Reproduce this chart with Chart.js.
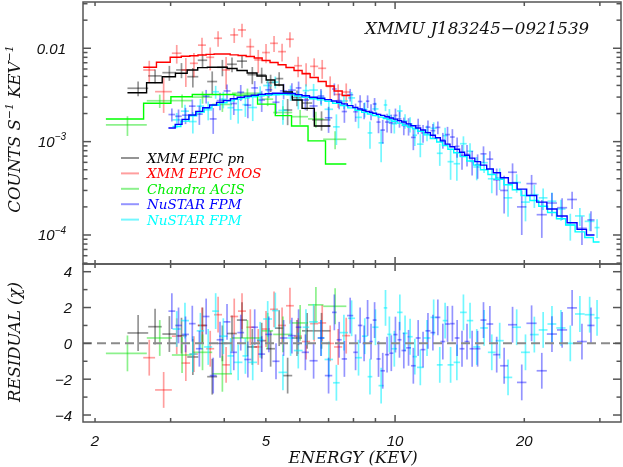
<!DOCTYPE html>
<html>
<head>
<meta charset="utf-8">
<script src="https://cdn.jsdelivr.net/npm/chart.js@4.4.1/dist/chart.umd.min.js"></script>
<style>
  html, body { margin:0; padding:0; background:#fff; }
  #wrap { position:relative; width:623px; height:467px; }
  #wrap canvas { position:absolute; left:0; top:0; }
</style>
</head>
<body>
<div id="wrap">
  <canvas id="spec" width="623" height="467"></canvas>
  <canvas id="resid" width="623" height="467"></canvas>
</div>
<script>
// ── Data (energy keV, half bin width, counts/s/keV, error, model, residual) ───

// XMM EPIC pn
const pnE   = [2.52,2.76,2.98,3.18,3.38,3.56,3.75,3.96,4.17,4.40,4.65,4.89,5.13,5.37,5.62,5.91,6.24,6.74];
const pnDE  = [0.14,0.10,0.11,0.09,0.10,0.09,0.10,0.11,0.11,0.12,0.12,0.12,0.12,0.12,0.14,0.16,0.17,0.33];
const pnF   = [3.73e-3,5.06e-3,5.48e-3,5.86e-3,4.96e-3,7.44e-3,4.40e-3,6.26e-3,6.74e-3,7.28e-3,5.21e-3,5.20e-3,4.30e-3,4.73e-3,2.18e-3,2.96e-3,2.59e-3,1.71e-3];
const pnFE  = [0.67e-3,0.85e-3,1.0e-3,1.08e-3,1.17e-3,1.24e-3,1.25e-3,1.25e-3,1.2e-3,1.16e-3,1.09e-3,1.0e-3,0.91e-3,0.81e-3,0.68e-3,0.56e-3,0.45e-3,0.4e-3];
const pnMod = [3.34e-3,4.27e-3,4.96e-3,5.40e-3,5.85e-3,6.20e-3,6.26e-3,6.26e-3,6.07e-3,5.78e-3,5.43e-3,5.05e-3,4.57e-3,4.04e-3,3.40e-3,2.79e-3,2.27e-3,1.47e-3];
const pnRes = [0.58,0.93,0.52,0.43,-0.76,1.0,-1.86,0.0,0.55,1.3,-0.2,0.15,-0.3,0.85,-1.8,0.3,0.7,0.7];

// XMM EPIC MOS
const mosE   = [2.675,2.89,3.10,3.255,3.40,3.55,3.71,3.87,4.04,4.22,4.40,4.60,4.80,5.005,5.225,5.455,5.69,5.945,6.205,6.48,6.765,7.06,7.37,7.695];
const mosDE  = [0.085,0.13,0.08,0.075,0.073,0.076,0.08,0.083,0.087,0.09,0.095,0.097,0.10,0.105,0.11,0.115,0.12,0.125,0.135,0.14,0.145,0.15,0.16,0.165];
const mosF   = [5.85e-3,3.43e-3,8.85e-3,5.85e-3,6.9e-3,1.08e-2,8.0e-3,1.28e-2,5.85e-3,1.39e-2,1.57e-2,1.04e-2,7.5e-3,9.0e-3,1.13e-2,9.2e-3,1.25e-2,6.5e-3,5.4e-3,6.4e-3,6.1e-3,3.9e-3,3.2e-3,3.4e-3];
const mosFE  = [1.5e-3,1.4e-3,2.0e-3,2.0e-3,2.0e-3,2.2e-3,2.2e-3,2.4e-3,2.2e-3,2.5e-3,2.6e-3,2.3e-3,2.1e-3,2.1e-3,2.2e-3,2.0e-3,2.3e-3,1.6e-3,1.5e-3,1.4e-3,1.4e-3,1.1e-3,0.9e-3,0.8e-3];
const mosMod = [6.26e-3,7.08e-3,8.01e-3,8.2e-3,8.3e-3,8.48e-3,8.6e-3,8.69e-3,8.69e-3,8.5e-3,8.37e-3,8.17e-3,7.87e-3,7.4e-3,7.05e-3,6.66e-3,6.23e-3,5.78e-3,5.33e-3,4.86e-3,4.4e-3,3.94e-3,3.49e-3,3.12e-3];
const mosRes = [-0.8,-2.6,0.4,-1.1,-0.6,1.0,-0.3,1.6,-1.2,1.5,1.8,0.9,-0.2,0.8,1.9,1.0,2.1,0.4,0.1,1.1,1.14,0.0,-0.2,0.43];

// Chandra ACIS
const acisE   = [2.38,2.83,3.19,3.56,3.96,4.53,5.05,5.48,6.01,6.54,7.25];
const acisDE  = [0.26,0.19,0.17,0.19,0.21,0.36,0.15,0.28,0.26,0.27,0.45];
const acisF   = [1.51e-3,2.74e-3,2.75e-3,3.0e-3,2.5e-3,3.3e-3,2.85e-3,2.05e-3,1.85e-3,1.75e-3,1.06e-3];
const acisFE  = [0.36e-3,0.45e-3,0.45e-3,0.45e-3,0.42e-3,0.4e-3,0.45e-3,0.35e-3,0.33e-3,0.34e-3,0.23e-3];
const acisMod = [1.75e-3,2.58e-3,3.03e-3,3.20e-3,3.20e-3,3.15e-3,2.52e-3,1.90e-3,1.47e-3,1.02e-3,5.75e-4];
const acisRes = [-0.56,0.3,-0.65,-0.5,-1.7,0.3,0.7,0.5,1.14,2.15,2.07];

// NuSTAR FPM (blue)
const fpmaE   = [3.02,3.13,3.25,3.37,3.50,3.63,3.77,3.91,4.06,4.21,4.37,4.54,4.71,4.89,5.08,5.28,5.50,5.75,5.96,6.18,6.46,6.72,7.0,7.22,
                 7.41,7.62,7.86,8.09,8.29,8.47,8.63,8.79,8.96,9.15,9.36,9.58,9.8,10.02,10.24,10.48,10.75,11.03,11.32,11.62,11.93,12.25,12.58,12.92,
                 13.25,13.6,13.95,14.32,14.71,15.12,15.57,16.07,16.63,17.25,17.95,18.78,19.73,20.8,21.97,23.2,24.5,25.85,27.25,28.6];
const fpmaDE  = [0.055,0.055,0.06,0.06,0.065,0.065,0.07,0.07,0.075,0.075,0.08,0.085,0.085,0.09,0.095,0.1,0.11,0.12,0.09,0.12,0.14,0.12,0.14,0.09,
                 0.1,0.11,0.13,0.1,0.1,0.08,0.08,0.08,0.09,0.1,0.11,0.11,0.11,0.11,0.11,0.13,0.14,0.14,0.15,0.15,0.16,0.16,0.17,0.17,
                 0.17,0.17,0.18,0.19,0.2,0.21,0.24,0.26,0.3,0.32,0.38,0.45,0.5,0.57,0.6,0.63,0.67,0.68,0.72,0.55];
const fpmaF   = [1.95e-3,1.87e-3,1.92e-3,2.40e-3,1.97e-3,3.07e-3,1.75e-3,2.75e-3,3.49e-3,2.56e-3,3.38e-3,2.46e-3,3.76e-3,2.79e-3,3.59e-3,2.64e-3,3.50e-3,3.56e-3,3.76e-3,2.79e-3,2.41e-3,3.08e-3,1.80e-3,3.66e-3,
                 2.75e-3,2.10e-3,3.18e-3,2.09e-3,2.69e-3,2.17e-3,2.71e-3,2.10e-3,2.53e-3,1.62e-3,1.33e-3,1.62e-3,1.59e-3,1.91e-3,1.75e-3,1.49e-3,1.47e-3,1.11e-3,1.48e-3,1.24e-3,1.43e-3,1.31e-3,1.42e-3,1.04e-3,
                 1.19e-3,1.12e-3,8.9e-4,7.1e-4,7.3e-4,6.15e-4,5.65e-4,7.4e-4,6.5e-4,3.9e-4,3.0e-4,4.7e-4,2.0e-4,3.55e-4,1.65e-4,2.2e-4,1.96e-4,2.4e-4,1.18e-4,1.45e-4];
const fpmaFE  = [0.31e-3,0.34e-3,0.38e-3,0.42e-3,0.46e-3,0.51e-3,0.54e-3,0.58e-3,0.61e-3,0.63e-3,0.66e-3,0.68e-3,0.69e-3,0.71e-3,0.65e-3,0.66e-3,0.66e-3,0.66e-3,0.64e-3,0.62e-3,0.60e-3,0.58e-3,0.56e-3,0.54e-3,
                 0.53e-3,0.51e-3,0.49e-3,0.46e-3,0.45e-3,0.43e-3,0.42e-3,0.41e-3,0.40e-3,0.39e-3,0.38e-3,0.37e-3,0.36e-3,0.35e-3,0.34e-3,0.32e-3,0.31e-3,0.30e-3,0.28e-3,0.27e-3,0.25e-3,0.23e-3,0.22e-3,0.20e-3,
                 2.5e-4,2.4e-4,2.2e-4,2.1e-4,1.9e-4,1.8e-4,1.65e-4,1.5e-4,1.4e-4,1.25e-4,1.3e-4,1.15e-4,1.0e-4,8.5e-5,7.2e-5,6.1e-5,5.1e-5,5.0e-5,4.0e-5,3.5e-5];
const fpmaMod = [1.40e-3,1.53e-3,1.73e-3,1.93e-3,2.11e-3,2.31e-3,2.47e-3,2.63e-3,2.76e-3,2.88e-3,2.99e-3,3.07e-3,3.14e-3,3.21e-3,3.26e-3,3.30e-3,3.30e-3,3.28e-3,3.19e-3,3.10e-3,2.99e-3,2.91e-3,2.82e-3,2.72e-3,
                 2.64e-3,2.54e-3,2.43e-3,2.32e-3,2.24e-3,2.17e-3,2.11e-3,2.06e-3,2.01e-3,1.96e-3,1.91e-3,1.85e-3,1.79e-3,1.74e-3,1.68e-3,1.62e-3,1.55e-3,1.48e-3,1.40e-3,1.33e-3,1.25e-3,1.17e-3,1.10e-3,1.02e-3,
                 9.4e-4,8.8e-4,8.3e-4,7.7e-4,7.15e-4,6.65e-4,6.1e-4,5.6e-4,5.1e-4,4.65e-4,4.1e-4,3.6e-4,3.1e-4,2.65e-4,2.25e-4,1.9e-4,1.6e-4,1.35e-4,1.15e-4,1.0e-4];
const fpmaRes = [1.8,1.0,0.5,1.1,-0.3,1.5,-1.8,0.2,1.2,-0.5,0.6,-0.9,0.9,-0.6,0.5,-1.0,0.3,0.43,0.9,-0.5,-0.97,0.3,-1.8,1.73,
                 0.2,-0.87,1.55,-0.5,1.0,0.0,1.42,0.1,1.3,-0.87,-1.53,-0.63,-0.55,0.49,0.2,-0.4,-0.25,-1.25,0.3,-0.35,0.7,0.6,1.45,0.1,
                 1.08,1.1,0.3,-0.3,0.1,-0.3,-0.3,1.3,1.08,-0.63,-1.25,1.04,-2.18,1.12,-1.53,0.52,0.75,1.98,0.1,1.0];

// NuSTAR FPM (cyan)
const fpmbE   = [3.10,3.24,3.38,3.52,3.67,3.82,3.98,4.14,4.31,4.48,4.66,4.85,5.05,5.26,5.48,5.71,5.95,6.2,6.46,6.73,7.01,7.3,7.6,7.92,
                 8.22,8.5,8.74,9.0,9.28,9.5,9.7,9.96,10.26,10.55,10.84,11.12,11.45,11.87,12.3,12.71,13.08,13.47,13.93,14.43,14.95,15.5,16.12,16.8,
                 17.53,18.33,19.2,20.13,21.11,22.13,23.2,24.35,25.6,26.95,28.4,29.55];
const fpmbDE  = [0.07,0.07,0.07,0.07,0.08,0.07,0.09,0.07,0.1,0.07,0.11,0.08,0.12,0.09,0.13,0.1,0.14,0.11,0.15,0.12,0.16,0.13,0.17,0.15,
                 0.15,0.13,0.11,0.15,0.13,0.09,0.11,0.15,0.15,0.14,0.15,0.13,0.2,0.22,0.21,0.2,0.17,0.22,0.24,0.26,0.26,0.29,0.33,0.35,
                 0.38,0.42,0.45,0.48,0.5,0.52,0.55,0.6,0.65,0.7,0.75,0.4];
const fpmbF   = [1.71e-3,2.12e-3,1.64e-3,2.40e-3,2.19e-3,3.42e-3,2.84e-3,2.31e-3,2.19e-3,2.49e-3,2.32e-3,3.23e-3,3.99e-3,4.34e-3,2.16e-3,3.36e-3,2.83e-3,3.52e-3,3.57e-3,2.97e-3,2.22e-3,1.44e-3,2.73e-3,2.94e-3,
                 1.82e-3,2.22e-3,1.24e-3,2.24e-3,0.97e-3,2.47e-3,1.89e-3,1.55e-3,2.13e-3,1.67e-3,1.54e-3,1.17e-3,0.94e-3,1.25e-3,1.39e-3,0.75e-3,1.16e-3,6.1e-4,5.8e-4,9.5e-4,7.9e-4,5.35e-4,5.95e-4,4.0e-4,
                 4.1e-4,2.5e-4,3.65e-4,2.25e-4,2.7e-4,2.5e-4,2.3e-4,1.9e-4,1.28e-4,1.6e-4,1.4e-4,1.2e-4];
const fpmbFE  = [0.32e-3,0.37e-3,0.42e-3,0.46e-3,0.50e-3,0.54e-3,0.57e-3,0.60e-3,0.63e-3,0.65e-3,0.66e-3,0.68e-3,0.63e-3,0.64e-3,0.64e-3,0.63e-3,0.62e-3,0.60e-3,0.58e-3,0.56e-3,0.54e-3,0.52e-3,0.49e-3,0.46e-3,
                 0.43e-3,0.41e-3,0.40e-3,0.38e-3,0.37e-3,0.35e-3,0.34e-3,0.33e-3,0.32e-3,0.30e-3,0.29e-3,0.27e-3,0.26e-3,0.24e-3,0.22e-3,0.20e-3,2.5e-4,2.2e-4,2.0e-4,1.9e-4,1.7e-4,1.5e-4,1.35e-4,1.2e-4,
                 1.07e-4,9.3e-5,8.2e-5,8.5e-5,7.5e-5,6.5e-5,5.6e-5,4.8e-5,4.1e-5,3.5e-5,3.0e-5,2.7e-5];
const fpmbMod = [1.45e-3,1.66e-3,1.89e-3,2.08e-3,2.29e-3,2.45e-3,2.61e-3,2.73e-3,2.85e-3,2.94e-3,3.02e-3,3.09e-3,3.14e-3,3.18e-3,3.19e-3,3.17e-3,3.08e-3,2.98e-3,2.88e-3,2.80e-3,2.71e-3,2.58e-3,2.44e-3,2.30e-3,
                 2.17e-3,2.06e-3,1.98e-3,1.90e-3,1.83e-3,1.77e-3,1.72e-3,1.65e-3,1.58e-3,1.50e-3,1.43e-3,1.37e-3,1.29e-3,1.18e-3,1.08e-3,9.9e-4,9.1e-4,8.3e-4,7.6e-4,6.9e-4,6.2e-4,5.6e-4,5.0e-4,4.45e-4,
                 3.95e-4,3.45e-4,3.05e-4,2.65e-4,2.34e-4,2.03e-4,1.74e-4,1.49e-4,1.28e-4,1.08e-4,9.4e-5,8.4e-5];
const fpmbRes = [0.8,1.27,-0.6,0.7,-0.2,1.8,0.4,-0.7,-1.06,-0.7,-1.06,0.2,1.36,1.83,-1.62,0.3,-0.4,0.9,1.2,0.3,-0.9,-2.2,0.6,1.4,
                 -0.8,0.4,-1.86,0.9,-2.36,1.98,0.5,-0.3,1.73,0.56,0.37,-0.74,-1.34,0.3,1.45,-1.2,1.27,-1.2,-1.06,1.73,1.27,-0.2,0.86,-0.5,
                 0.15,-1.9,0.9,-0.5,0.49,0.75,1.08,0.86,0.0,1.64,1.6,1.42];

// ── Axes ──────────────────────────────────────────────────────────────────────

const E_MIN = 1.875, E_MAX = 33.6;
const F_MIN = 4.89e-5, F_MAX = 3.13e-2;
const R_MIN = -4.39, R_MAX = 4.43;
const xMajor = [10], xMinor = [2,3,4,5,6,7,8,9,20,30], xLabels = [2,5,10,20];
const fluxMajor = [1e-4,1e-3,1e-2];
const resMajor = [-4,-2,0,2,4], resMinor = [-3,-1,1,3];

const SERIF = '"DejaVu Serif", serif';
const SANS  = '"Liberation Sans", sans-serif';
const instruments = [
  {label:'XMM EPIC pn',  line:'#000000', err:'rgba(0,0,0,0.42)',     text:'#000000', e:pnE,   de:pnDE,   f:pnF,   fe:pnFE,   mod:pnMod,   res:pnRes},
  {label:'XMM EPIC MOS', line:'#ff0000', err:'rgba(255,0,0,0.38)',   text:'#ff0000', e:mosE,  de:mosDE,  f:mosF,  fe:mosFE,  mod:mosMod,  res:mosRes},
  {label:'Chandra ACIS', line:'#00ff00', err:'rgba(0,225,0,0.45)',   text:'#00ee00', e:acisE, de:acisDE, f:acisF, fe:acisFE, mod:acisMod, res:acisRes},
  {label:'NuSTAR FPM',   line:'#0000ff', err:'rgba(0,0,255,0.42)',   text:'#0000ff', e:fpmaE, de:fpmaDE, f:fpmaF, fe:fpmaFE, mod:fpmaMod, res:fpmaRes},
  {label:'NuSTAR FPM',   line:'#00ffff', err:'rgba(0,240,255,0.55)', text:'#00ffff', e:fpmbE, de:fpmbDE, f:fpmbF, fe:fpmbFE, mod:fpmbMod, res:fpmbRes},
];

// ── Helpers ───────────────────────────────────────────────────────────────────

function stepPts(e, de, m) {
  const pts = [{x: e[0]-de[0], y: m[0]}];
  e.forEach((v,i) => pts.push({x: v, y: m[i]}));
  pts.push({x: e[e.length-1]+de[de.length-1], y: m[m.length-1]});
  return pts;
}

function rich(ctx, parts, x, y, align, size, family) {
  const fam = family || SERIF;
  const big = `italic ${size}px ${fam}`, small = `italic ${Math.round(size*0.68)}px ${fam}`;
  let w = 0;
  parts.forEach(([t,sup]) => { ctx.font = sup ? small : big; w += ctx.measureText(t).width; });
  let cx = align === 'right' ? x-w : align === 'center' ? x-w/2 : x;
  parts.forEach(([t,sup]) => {
    ctx.font = sup ? small : big;
    ctx.fillText(t, cx, sup ? y-size*0.45 : y);
    cx += ctx.measureText(t).width;
  });
}

function seg(ctx, x0, y0, x1, y1) { ctx.beginPath(); ctx.moveTo(x0,y0); ctx.lineTo(x1,y1); ctx.stroke(); }

// ── Plugins ───────────────────────────────────────────────────────────────────

const errorBars = {
  id: 'errorBars',
  beforeDatasetsDraw(chart) {
    const {ctx, chartArea: a, scales: {x, y}} = chart;
    ctx.save();
    ctx.beginPath(); ctx.rect(a.left, a.top, a.right-a.left, a.bottom-a.top); ctx.clip();
    ctx.lineWidth = 1.7;
    chart.data.datasets.forEach(ds => {
      if (!ds.xerr) return;
      ctx.strokeStyle = ds.errColor;
      ds.data.forEach((p,i) => {
        const ye = Array.isArray(ds.yerr) ? ds.yerr[i] : ds.yerr;
        const px = x.getPixelForValue(p.x), py = y.getPixelForValue(p.y);
        const lo = y.type === 'logarithmic' ? Math.max(p.y-ye, y.min) : p.y-ye;
        seg(ctx, x.getPixelForValue(p.x-ds.xerr[i]), py, x.getPixelForValue(p.x+ds.xerr[i]), py);
        seg(ctx, px, y.getPixelForValue(lo), px, y.getPixelForValue(p.y+ye));
      });
    });
    ctx.restore();
  }
};

const frame = {
  id: 'frame',
  afterDraw(chart, args, o) {
    const {ctx, chartArea: a, scales: {x, y}} = chart;
    ctx.save();
    ctx.strokeStyle = '#555'; ctx.lineWidth = 1.5;
    ctx.strokeRect(a.left, a.top, a.right-a.left, a.bottom-a.top);
    const xt = (v, len) => { const p = x.getPixelForValue(v); seg(ctx,p,a.top,p,a.top+len); seg(ctx,p,a.bottom,p,a.bottom-len); };
    xMajor.forEach(v => xt(v, 7)); xMinor.forEach(v => xt(v, 4));
    const yt = (v, len) => { const p = y.getPixelForValue(v); if (p < a.top-0.5 || p > a.bottom+0.5) return; seg(ctx,a.left,p,a.left+len,p); seg(ctx,a.right,p,a.right-len,p); };
    o.yMajor.forEach(v => yt(v, 8)); o.yMinor.forEach(v => yt(v, 4.5));
    ctx.fillStyle = '#111'; ctx.textBaseline = 'alphabetic';
    o.yLabels.forEach(([v, parts]) => rich(ctx, parts, o.yLabelX, y.getPixelForValue(v)+5.5, 'right', 15, SANS));
    if (o.xLabels) xLabels.forEach(v => rich(ctx, [[String(v)]], x.getPixelForValue(v), 446, 'center', 15, SANS));
    ctx.translate(14, o.yTitleY); ctx.rotate(-Math.PI/2);
    rich(ctx, o.yTitle, 0, 6, 'center', 16.5);
    ctx.restore();
    if (o.draw) o.draw(ctx, a);
  }
};

// ── Spectrum panel ────────────────────────────────────────────────────────────

const fluxMinor = [];
[1e-5,1e-4,1e-3,1e-2].forEach(d => { for (let k = 2; k <= 9; k++) fluxMinor.push(k*d); });

const lineOrder = [3,4,1,0,2];
const specSets = lineOrder.map(i => {
  const s = instruments[i];
  return {type:'line', data: stepPts(s.e, s.de, s.mod), stepped:'middle', borderColor:s.line, borderWidth:1.4, pointRadius:0, fill:false};
}).concat([0,1,2,4,3].map(i => {
  const s = instruments[i];
  return {type:'scatter', data: s.e.map((e,j) => ({x:e, y:s.f[j]})), pointRadius:0, xerr:s.de, yerr:s.fe, errColor:s.err};
}));

new Chart(document.getElementById('spec'), {
  data: {datasets: specSets},
  options: {
    responsive:false, animation:false, devicePixelRatio:1,
    layout: {padding: {left:83, right:2, top:2, bottom:203}},
    scales: {
      x: {type:'logarithmic', min:E_MIN, max:E_MAX, bounds:'data', display:false},
      y: {type:'logarithmic', min:F_MIN, max:F_MAX, bounds:'data', display:false}
    },
    plugins: {
      legend:{display:false}, tooltip:{enabled:false},
      frame: {
        yMajor: fluxMajor, yMinor: fluxMinor, yLabelX: 66, xLabels:false, yTitleY: 129,
        yLabels: [[1e-2, [['0.01']]], [1e-3, [['10'],['\u22123',true]]], [1e-4, [['10'],['\u22124',true]]]],
        yTitle: [['COUNTS S'],['\u22121',true],[' KEV'],['\u22121',true]],
        draw(ctx, a) {
          ctx.save();
          ctx.fillStyle = '#111'; ctx.textBaseline = 'alphabetic';
          rich(ctx, [['XMMU J183245\u22120921539']], 365, 34, 'left', 16.7);
          instruments.forEach((s,i) => {
            const yy = 158 + i*15.4;
            ctx.strokeStyle = s.err; ctx.lineWidth = 2;
            seg(ctx, 121, yy, 139, yy);
            ctx.fillStyle = s.text;
            rich(ctx, [[s.label]], 147, yy+5, 'left', 13.5);
          });
          ctx.restore();
        }
      }
    }
  },
  plugins: [errorBars, frame]
});

// ── Residual panel ────────────────────────────────────────────────────────────

const residSets = [{type:'line', data:[{x:E_MIN,y:0},{x:E_MAX,y:0}], borderColor:'#8a8a8a', borderWidth:2, borderDash:[9,5], pointRadius:0}]
  .concat([0,1,2,4,3].map(i => {
    const s = instruments[i];
    return {type:'scatter', data: s.e.map((e,j) => ({x:e, y:s.res[j]})), pointRadius:0, xerr:s.de, yerr:1, errColor:s.err};
  }));

new Chart(document.getElementById('resid'), {
  data: {datasets: residSets},
  options: {
    responsive:false, animation:false, devicePixelRatio:1,
    layout: {padding: {left:83, right:2, top:264, bottom:45}},
    scales: {
      x: {type:'logarithmic', min:E_MIN, max:E_MAX, bounds:'data', display:false},
      y: {type:'linear', min:R_MIN, max:R_MAX, bounds:'data', display:false}
    },
    plugins: {
      legend:{display:false}, tooltip:{enabled:false},
      frame: {
        yMajor: resMajor, yMinor: resMinor, yLabelX: 72, xLabels:true, yTitleY: 342,
        yLabels: resMajor.map(v => [v, [[v < 0 ? '\u2212'+(-v) : String(v)]]]),
        yTitle: [['RESIDUAL (\u03c7)']],
        draw(ctx, a) {
          ctx.save();
          ctx.fillStyle = '#111'; ctx.textBaseline = 'alphabetic';
          rich(ctx, [['ENERGY (KEV)']], 353, 463, 'center', 16.5);
          ctx.restore();
        }
      }
    }
  },
  plugins: [errorBars, frame]
});
</script>
</body>
</html>
